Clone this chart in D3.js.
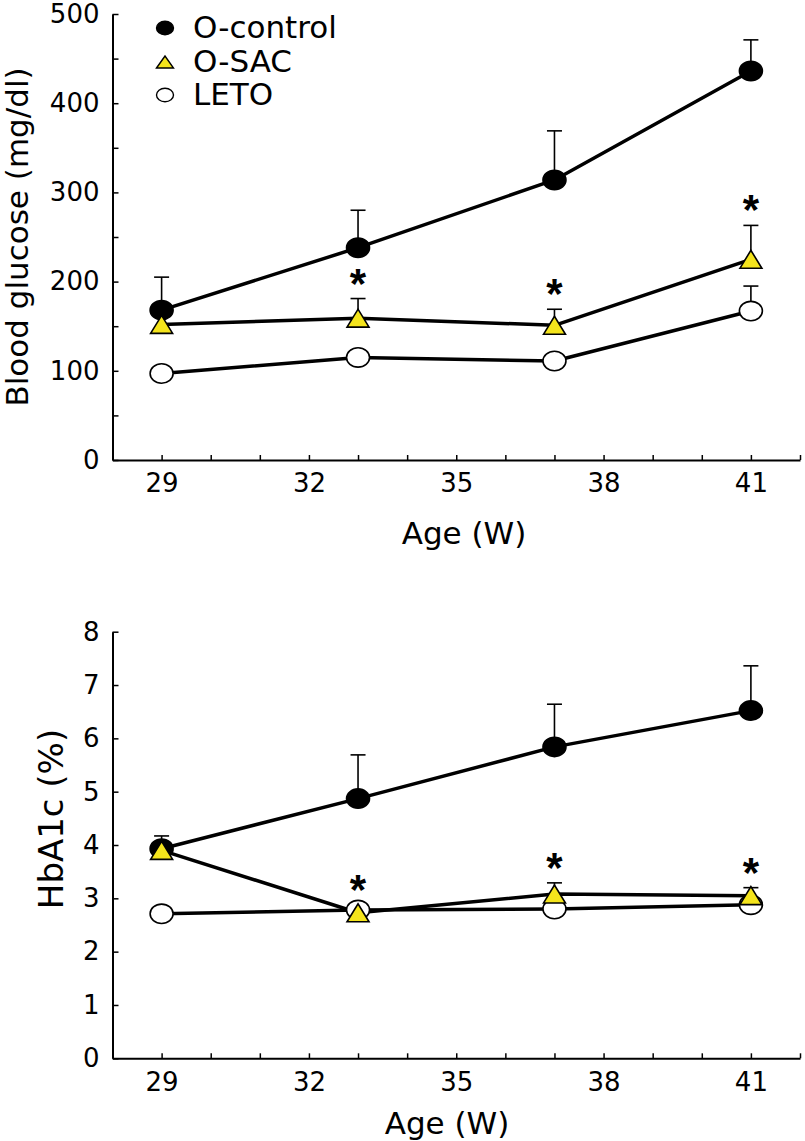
<!DOCTYPE html>
<html>
<head>
<meta charset="utf-8">
<script src="https://cdn.jsdelivr.net/npm/d3@7"></script>
<style>
  html, body { margin: 0; padding: 0; background: #fff; }
  svg { display: block; font-family: "DejaVu Sans", Verdana, sans-serif; }
</style>
</head>
<body>
<svg id="chart" width="805" height="1141"></svg>
<script>
// ---------- data ----------
const weeks = [29, 33, 37, 41];
const seriesNames = ["O-control", "O-SAC", "LETO"];

const glucoseControl = [168, 238, 314, 436];
const glucoseControlErr = [37, 42, 55, 35];
const glucoseSAC = [152, 159, 151, 225];
const glucoseSACErr = [15, 22, 18, 38];
const glucoseLETO = [97, 115, 111, 167];
const glucoseLETOErr = [8, 8, 8, 28];
const glucoseStars = [false, true, true, true];

const hbaControl = [3.93, 4.87, 5.84, 6.52];
const hbaControlErr = [0.24, 0.82, 0.80, 0.84];
const hbaSAC = [3.90, 2.73, 3.08, 3.05];
const hbaSACErr = [0.12, 0.15, 0.21, 0.15];
const hbaLETO = [2.71, 2.78, 2.80, 2.88];
const hbaLETOErr = [0.1, 0.1, 0.1, 0.1];
const hbaStars = [false, true, true, true];

const xTickLabels = [29, 32, 35, 38, 41];
const glucoseTickLabels = [0, 100, 200, 300, 400, 500];
const hbaTickLabels = [0, 1, 2, 3, 4, 5, 6, 7, 8];

// ---------- setup ----------
const svg = d3.select("#chart");
const YELLOW = "#f4e41c";

const x = d3.scaleLinear().domain([28, 42]).range([112.5, 800]);

const panels = [
  {
    yDomain: [0, 500], yRange: [460, 14], minorStep: 50, labels: glucoseTickLabels,
    control: glucoseControl, controlErr: glucoseControlErr,
    sac: glucoseSAC, sacErr: glucoseSACErr,
    leto: glucoseLETO, letoErr: glucoseLETOErr,
    stars: glucoseStars,
    yTitle: "Blood glucose (mg/dl)", yTitleX: 28, yTitleY: 237, yTitleSize: 31,
    xTitleX: 464, xTitleY: 544, legend: true
  },
  {
    yDomain: [0, 8], yRange: [1058.3, 631.7], minorStep: 1, labels: hbaTickLabels,
    control: hbaControl, controlErr: hbaControlErr,
    sac: hbaSAC, sacErr: hbaSACErr,
    leto: hbaLETO, letoErr: hbaLETOErr,
    stars: hbaStars,
    yTitle: "HbA1c (%)", yTitleX: 63, yTitleY: 819, yTitleSize: 34,
    xTitleX: 447, xTitleY: 1134, legend: false
  }
];

function triPath(cx, cy, w, h) {
  return `M${cx - w / 2},${cy + h / 2}L${cx},${cy - h / 2}L${cx + w / 2},${cy + h / 2}Z`;
}

panels.forEach(p => {
  const y = d3.scaleLinear().domain(p.yDomain).range(p.yRange);
  const g = svg.append("g");

  // y axis (inward ticks)
  const yTicks = d3.range(p.yDomain[0], p.yDomain[1] + p.minorStep / 2, p.minorStep);
  const yAxis = d3.axisLeft(y)
    .tickValues(yTicks)
    .tickSizeInner(-6).tickSizeOuter(0).tickPadding(13)
    .tickFormat(d => p.labels.includes(+d.toFixed(6)) ? d3.format("d")(d) : "");
  const ya = g.append("g").attr("transform", `translate(${x.range()[0]},0)`).call(yAxis);

  // x axis (inward ticks)
  const xAxis = d3.axisBottom(x)
    .tickValues(d3.range(28, 43))
    .tickSizeInner(-5).tickSizeOuter(0).tickPadding(14)
    .tickFormat(d => xTickLabels.includes(d) ? d : "");
  const xa = g.append("g").attr("transform", `translate(0,${p.yRange[0]})`).call(xAxis);

  [ya, xa].forEach(a => {
    a.selectAll(".domain").attr("stroke", "#000").attr("stroke-width", 2);
    a.selectAll(".tick line").attr("stroke", "#000").attr("stroke-width", 1.5);
    a.selectAll(".tick text").attr("fill", "#000").attr("font-size", 26)
      .attr("font-family", "DejaVu Sans, Verdana, sans-serif");
  });

  // titles
  g.append("text")
    .attr("transform", `translate(${p.yTitleX},${p.yTitleY}) rotate(-90)`)
    .attr("text-anchor", "middle")
    .attr("font-size", p.yTitleSize)
    .attr("fill", "#000")
    .text(p.yTitle);
  g.append("text")
    .attr("x", p.xTitleX).attr("y", p.xTitleY)
    .attr("text-anchor", "middle")
    .attr("font-size", 31)
    .attr("fill", "#000")
    .text("Age (W)");

  const series = [
    { vals: p.control, err: p.controlErr, kind: "filled" },
    { vals: p.leto, err: p.letoErr, kind: "open" },
    { vals: p.sac, err: p.sacErr, kind: "tri" }
  ];

  const line = d3.line().x((d, i) => x(weeks[i])).y(d => y(d));

  // lines
  series.forEach(s => {
    g.append("path").datum(s.vals)
      .attr("d", line)
      .attr("fill", "none").attr("stroke", "#000").attr("stroke-width", 3.5)
      .attr("stroke-linejoin", "round");
  });

  // error bars (upper only)
  series.forEach(s => {
    s.vals.forEach((v, i) => {
      const cx = x(weeks[i]);
      const yTop = y(v + s.err[i]);
      g.append("line").attr("x1", cx).attr("x2", cx).attr("y1", y(v)).attr("y2", yTop)
        .attr("stroke", "#000").attr("stroke-width", 1.6);
      g.append("line").attr("x1", cx - 7.5).attr("x2", cx + 7.5).attr("y1", yTop).attr("y2", yTop)
        .attr("stroke", "#000").attr("stroke-width", 1.6);
    });
  });

  // markers
  series.forEach(s => {
    s.vals.forEach((v, i) => {
      const cx = x(weeks[i]), cy = y(v);
      if (s.kind === "tri") {
        g.append("path").attr("d", triPath(cx, cy, 22, 18))
          .attr("fill", YELLOW).attr("stroke", "#000").attr("stroke-width", 1.6)
          .attr("stroke-linejoin", "miter");
      } else {
        g.append("ellipse").attr("cx", cx).attr("cy", cy).attr("rx", 11.5).attr("ry", 9.7)
          .attr("fill", s.kind === "filled" ? "#000" : "#fff")
          .attr("stroke", "#000").attr("stroke-width", 1.6);
      }
    });
  });

  // significance stars
  p.stars.forEach((st, i) => {
    if (!st) return;
    const top = y(p.sac[i] + p.sacErr[i]);
    g.append("text")
      .attr("x", x(weeks[i])).attr("y", top - 20 + 19)
      .attr("text-anchor", "middle")
      .attr("font-size", 42).attr("font-weight", "bold")
      .attr("font-family", "Liberation Sans, Arial, sans-serif")
      .attr("fill", "#000")
      .text("*");
  });

  // legend
  if (p.legend) {
    const lg = g.append("g");
    const lx = 165, tx = 193, rows = [28, 62, 95];
    const baselines = [38, 72, 105];
    lg.append("ellipse").attr("cx", lx).attr("cy", rows[0]).attr("rx", 8.5).attr("ry", 6.8)
      .attr("fill", "#000").attr("stroke", "#000").attr("stroke-width", 1.4);
    lg.append("path").attr("d", triPath(lx, rows[1], 17, 12))
      .attr("fill", YELLOW).attr("stroke", "#000").attr("stroke-width", 1.4);
    lg.append("ellipse").attr("cx", lx).attr("cy", rows[2]).attr("rx", 8.5).attr("ry", 6.8)
      .attr("fill", "#fff").attr("stroke", "#000").attr("stroke-width", 1.4);
    seriesNames.forEach((n, i) => {
      lg.append("text").attr("x", tx).attr("y", baselines[i])
        .attr("font-size", 31).attr("fill", "#000").text(n);
    });
  }
});
</script>
</body>
</html>
